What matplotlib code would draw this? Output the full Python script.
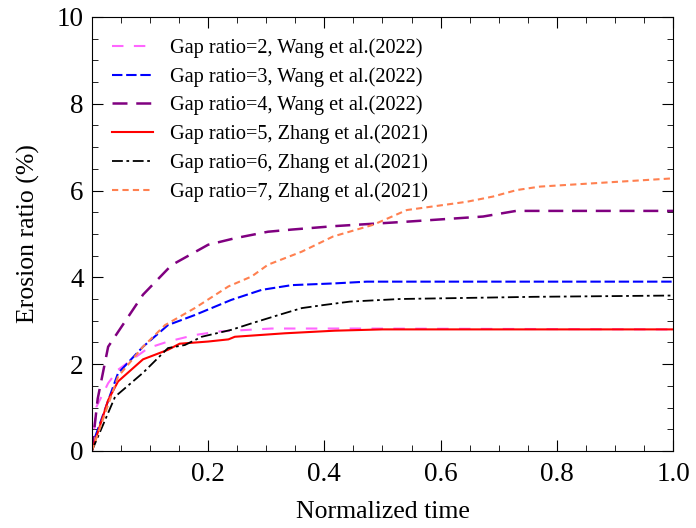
import matplotlib.pyplot as plt
from matplotlib.ticker import MultipleLocator

plt.rcParams['font.family'] = ['Liberation Serif', 'DejaVu Serif']

# Gap ratio = 2, Wang et al. (2022)
t2 = [0.0, 0.008, 0.028, 0.045, 0.097, 0.131, 0.177, 0.217, 0.309, 0.45, 1.0]
e2 = [0.0, 1.02, 1.56, 1.87, 2.37, 2.52, 2.67, 2.75, 2.82, 2.82, 2.8]
# Gap ratio = 3, Wang et al. (2022)
t3 = [0.0, 0.005, 0.045, 0.088, 0.131, 0.177, 0.24, 0.292, 0.344, 0.418, 0.473, 1.0]
e3 = [0.0, 0.3, 1.79, 2.4, 2.9, 3.13, 3.48, 3.71, 3.82, 3.86, 3.9, 3.9]
# Gap ratio = 4, Wang et al. (2022)
t4 = [0.0, 0.01, 0.028, 0.088, 0.137, 0.2, 0.246, 0.303, 0.344, 0.418, 0.54, 0.673, 0.73, 1.0]
e4 = [0.0, 1.2, 2.4, 3.6, 4.28, 4.75, 4.9, 5.05, 5.1, 5.18, 5.28, 5.4, 5.53, 5.53]
# Gap ratio = 5, Zhang et al. (2021)
t5 = [0.0, 0.028, 0.045, 0.088, 0.131, 0.151, 0.2, 0.235, 0.246, 0.332, 0.418, 0.5, 1.0]
e5 = [0.0, 1.17, 1.6, 2.11, 2.33, 2.47, 2.52, 2.57, 2.63, 2.71, 2.77, 2.8, 2.8]
# Gap ratio = 6, Zhang et al. (2021)
t6 = [0.0, 0.04, 0.088, 0.131, 0.16, 0.189, 0.24, 0.275, 0.321, 0.361, 0.398, 0.444, 0.53, 0.759, 1.0]
e6 = [0.0, 1.25, 1.8, 2.37, 2.44, 2.63, 2.79, 2.94, 3.13, 3.29, 3.36, 3.44, 3.5, 3.55, 3.58]
# Gap ratio = 7, Zhang et al. (2021)
t7 = [0.0, 0.045, 0.088, 0.126, 0.177, 0.235, 0.275, 0.303, 0.361, 0.415, 0.484, 0.542, 0.645, 0.69, 0.731, 0.771, 1.0]
e7 = [0.0, 1.71, 2.4, 2.9, 3.29, 3.79, 4.02, 4.29, 4.59, 4.94, 5.21, 5.55, 5.74, 5.86, 6.01, 6.09, 6.28]

fig = plt.figure(figsize=(6.96, 5.28), dpi=100)
ax = fig.add_axes([0.132, 0.146, 0.835, 0.822])

ax.plot(t2, e2, color='#ff66ff', lw=1.5, dashes=(5.5, 5), label='Gap ratio=2, Wang et al.(2022)')
ax.plot(t3, e3, color='#0000ff', lw=1.5, dashes=(5, 1.8), label='Gap ratio=3, Wang et al.(2022)')
ax.plot(t4, e4, color='#800080', lw=1.8, dashes=(6, 3.5), label='Gap ratio=4, Wang et al.(2022)')
ax.plot(t5, e5, color='#ff0000', lw=1.5, label='Gap ratio=5, Zhang et al.(2021)')
ax.plot(t6, e6, color='black', lw=1.3, dashes=(6, 2, 1.5, 2), label='Gap ratio=6, Zhang et al.(2021)')
ax.plot(t7, e7, color='#ff8050', lw=1.5, dashes=(3, 2), label='Gap ratio=7, Zhang et al.(2021)')

ax.set_xlim(0, 1.0)
ax.set_ylim(0, 10)
ax.set_xticks([0.2, 0.4, 0.6, 0.8, 1.0])
ax.set_xticklabels(['0.2', '0.4', '0.6', '0.8', '1.0'])
ax.set_yticks([0, 2, 4, 6, 8, 10])
ax.xaxis.set_minor_locator(MultipleLocator(0.05))
ax.yaxis.set_minor_locator(MultipleLocator(0.5))
ax.tick_params(which='both', direction='in', top=True, right=True, labelsize=19.5)
ax.tick_params(axis='x', pad=8)
ax.tick_params(axis='y', pad=6)
ax.tick_params(which='major', length=8)
ax.tick_params(which='minor', length=4)

ax.set_xlabel('Normalized time', fontsize=18.5, labelpad=10)
ax.set_ylabel('Erosion ratio (%)', fontsize=18.5, labelpad=12)

ax.legend(loc='upper left', frameon=False, fontsize=14.6, handlelength=2.0,
          handletextpad=0.85, labelspacing=0.45, borderaxespad=0.3,
          bbox_to_anchor=(0.011, 0.984))

fig.savefig('out.png', dpi=100)
